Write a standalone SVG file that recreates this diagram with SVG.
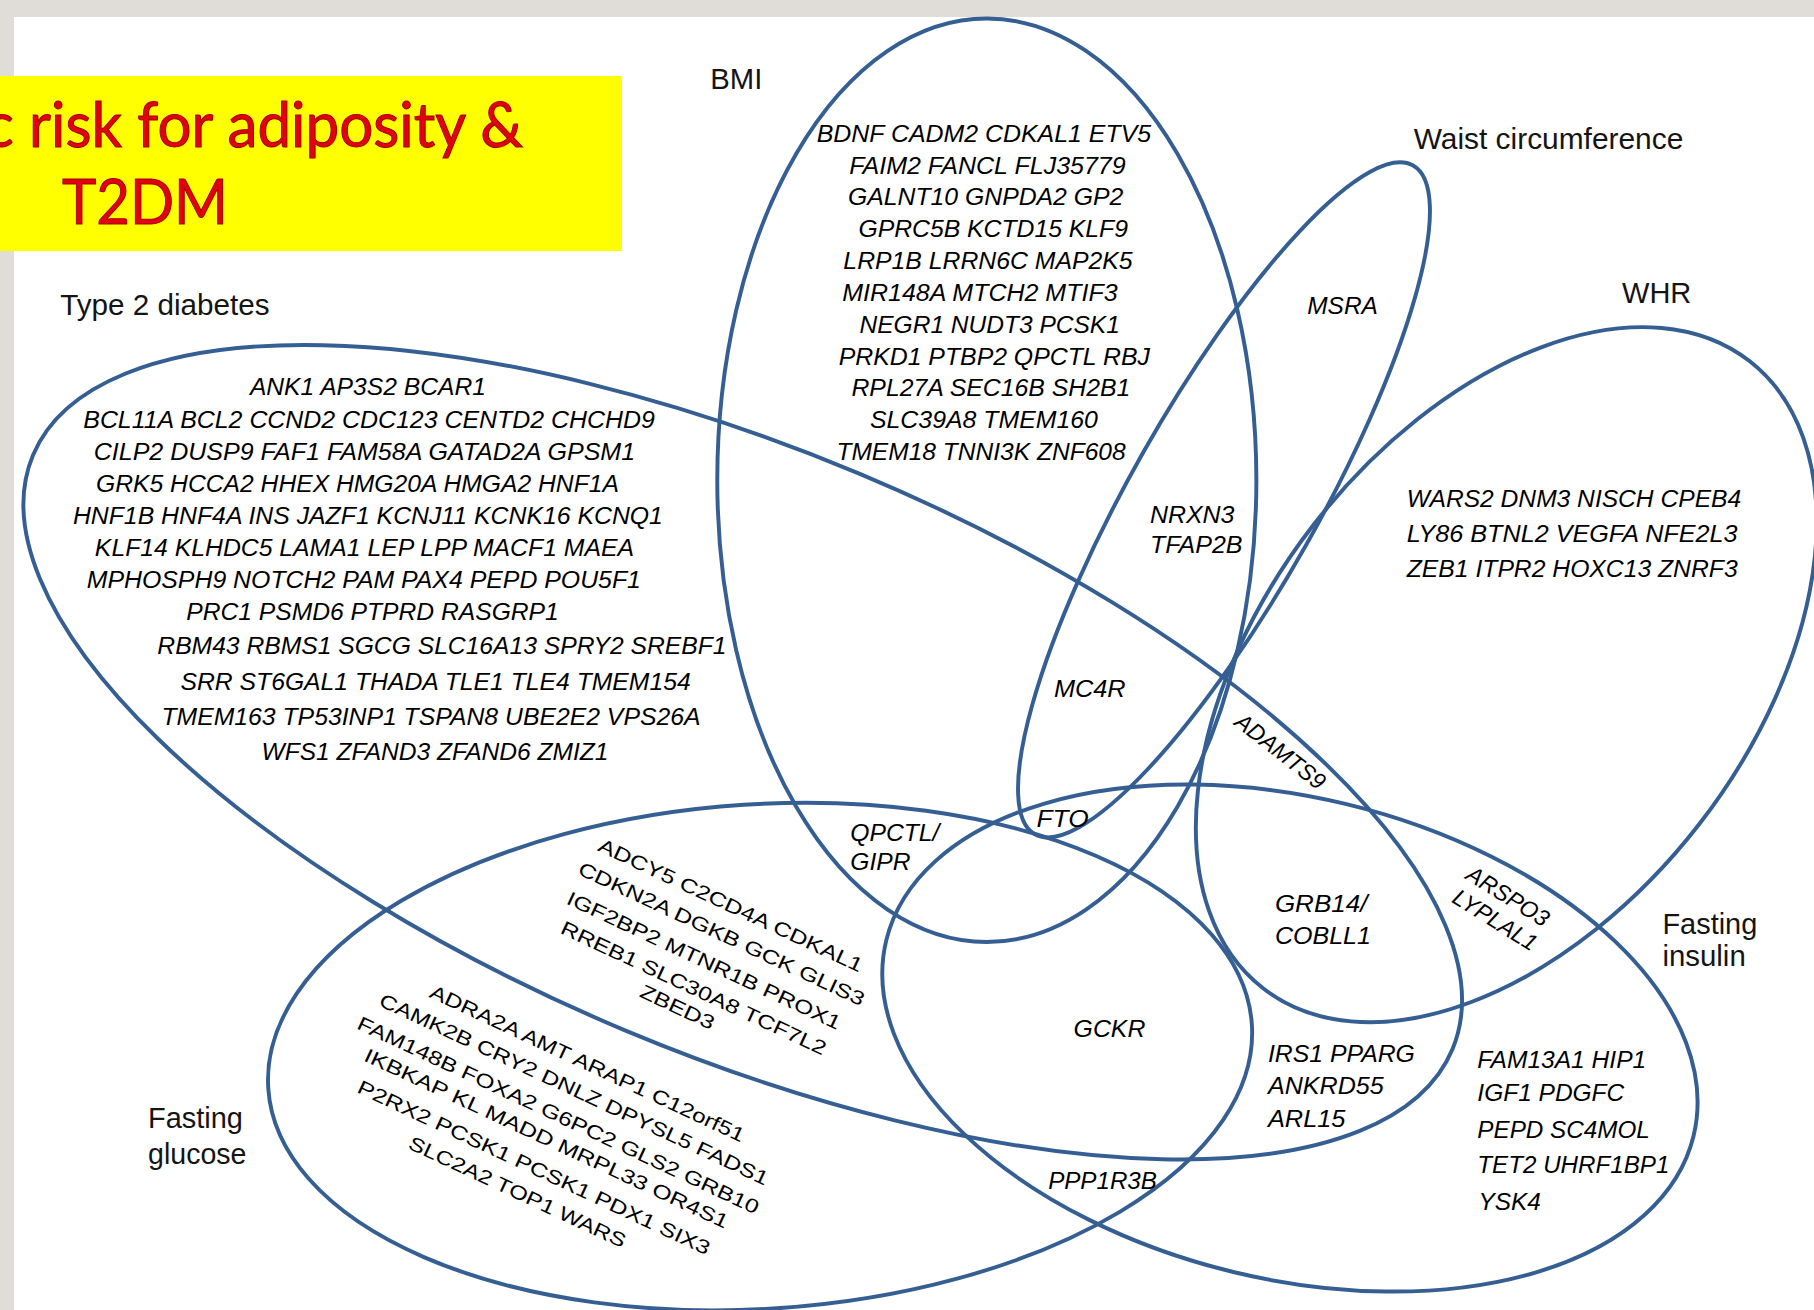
<svg xmlns="http://www.w3.org/2000/svg" width="1814" height="1310" viewBox="0 0 1814 1310">
<style>
.set{fill:none;stroke:#355f93;stroke-width:3.4}
.lbl{font-family:"Liberation Sans",Arial,sans-serif;font-size:25px;fill:#141414}
.g{font-family:"Liberation Sans",Arial,sans-serif;font-style:italic;font-size:20px;fill:#000}
.r{font-family:"Liberation Sans",Arial,sans-serif;font-size:17px;fill:#000}
.title{font-family:Lato,"Open Sans",sans-serif;font-size:62px;fill:#e3000f;stroke:#9a0000;stroke-width:1}
</style>
<rect x="0" y="0" width="1814" height="1310" fill="#e0ddd8"/>
<rect x="14" y="17" width="1800" height="1293" fill="#ffffff"/>
<g id="title">
<rect x="0" y="76" width="622" height="175" fill="#ffff00"/>
<text class="title" x="-15" y="147" textLength="538" lengthAdjust="spacingAndGlyphs">c risk for adiposity &amp;</text>
<text class="title" x="62" y="224" textLength="166" lengthAdjust="spacingAndGlyphs">T2DM</text>
</g>
<g transform="scale(1.15689 1.15724)">
<g id="sets">
<ellipse id="set-bmi" class="set" cx="853" cy="415" rx="233" ry="399"/>
<ellipse id="set-waist" class="set" cx="1058" cy="432" rx="332" ry="81" transform="rotate(-60.5 1058 432)"/>
<ellipse id="set-whr" class="set" cx="1302" cy="583" rx="343" ry="211" transform="rotate(-52.2 1302 583)"/>
<ellipse id="set-t2d" class="set" cx="642" cy="650" rx="665" ry="261" transform="rotate(22.7 642 650)"/>
<ellipse id="set-glucose" class="set" cx="657" cy="913" rx="426" ry="218" transform="rotate(-3.7 657 913)"/>
<ellipse id="set-insulin" class="set" cx="1115" cy="897" rx="359" ry="208" transform="rotate(13.6 1115 897)"/>
</g>
<g id="set-labels">
<text class="lbl" x="614" y="77" textLength="45" lengthAdjust="spacingAndGlyphs">BMI</text>
<text class="lbl" x="1222" y="129" textLength="233" lengthAdjust="spacingAndGlyphs">Waist circumference</text>
<text class="lbl" x="1402" y="262" textLength="60" lengthAdjust="spacingAndGlyphs">WHR</text>
<text class="lbl" x="52" y="272" textLength="181" lengthAdjust="spacingAndGlyphs">Type 2 diabetes</text>
<text class="lbl" x="128" y="975" textLength="82" lengthAdjust="spacingAndGlyphs">Fasting</text>
<text class="lbl" x="128" y="1006" textLength="85" lengthAdjust="spacingAndGlyphs">glucose</text>
<text class="lbl" x="1437" y="807" textLength="82" lengthAdjust="spacingAndGlyphs">Fasting</text>
<text class="lbl" x="1437" y="835" textLength="72" lengthAdjust="spacingAndGlyphs">insulin</text>
</g>
<g id="bmi-genes">
<text class="g" x="706" y="122.5" textLength="289" lengthAdjust="spacingAndGlyphs">BDNF CADM2 CDKAL1 ETV5</text>
<text class="g" x="734" y="150" textLength="239" lengthAdjust="spacingAndGlyphs">FAIM2 FANCL FLJ35779</text>
<text class="g" x="733" y="177.5" textLength="238" lengthAdjust="spacingAndGlyphs">GALNT10 GNPDA2 GP2</text>
<text class="g" x="742" y="205" textLength="233" lengthAdjust="spacingAndGlyphs">GPRC5B KCTD15 KLF9</text>
<text class="g" x="729" y="232.5" textLength="250" lengthAdjust="spacingAndGlyphs">LRP1B LRRN6C MAP2K5</text>
<text class="g" x="728" y="260" textLength="238" lengthAdjust="spacingAndGlyphs">MIR148A MTCH2 MTIF3</text>
<text class="g" x="743" y="287.5" textLength="225" lengthAdjust="spacingAndGlyphs">NEGR1 NUDT3 PCSK1</text>
<text class="g" x="725" y="315" textLength="269" lengthAdjust="spacingAndGlyphs">PRKD1 PTBP2 QPCTL RBJ</text>
<text class="g" x="736" y="342.5" textLength="241" lengthAdjust="spacingAndGlyphs">RPL27A SEC16B SH2B1</text>
<text class="g" x="752" y="370" textLength="197" lengthAdjust="spacingAndGlyphs">SLC39A8 TMEM160</text>
<text class="g" x="723" y="397.5" textLength="250" lengthAdjust="spacingAndGlyphs">TMEM18 TNNI3K ZNF608</text>
</g>
<g id="t2d-genes">
<text class="g" x="216" y="341.5" textLength="204" lengthAdjust="spacingAndGlyphs">ANK1 AP3S2 BCAR1</text>
<text class="g" x="72" y="369.6" textLength="494" lengthAdjust="spacingAndGlyphs">BCL11A BCL2 CCND2 CDC123 CENTD2 CHCHD9</text>
<text class="g" x="81" y="397.6" textLength="468" lengthAdjust="spacingAndGlyphs">CILP2 DUSP9 FAF1 FAM58A GATAD2A GPSM1</text>
<text class="g" x="83" y="425.5" textLength="452" lengthAdjust="spacingAndGlyphs">GRK5 HCCA2 HHEX HMG20A HMGA2 HNF1A</text>
<text class="g" x="63" y="453" textLength="510" lengthAdjust="spacingAndGlyphs">HNF1B HNF4A INS JAZF1 KCNJ11 KCNK16 KCNQ1</text>
<text class="g" x="82" y="480.6" textLength="466" lengthAdjust="spacingAndGlyphs">KLF14 KLHDC5 LAMA1 LEP LPP MACF1 MAEA</text>
<text class="g" x="75" y="507.7" textLength="479" lengthAdjust="spacingAndGlyphs">MPHOSPH9 NOTCH2 PAM PAX4 PEPD POU5F1</text>
<text class="g" x="161" y="536" textLength="322" lengthAdjust="spacingAndGlyphs">PRC1 PSMD6 PTPRD RASGRP1</text>
<text class="g" x="136" y="565.3" textLength="492" lengthAdjust="spacingAndGlyphs">RBM43 RBMS1 SGCG SLC16A13 SPRY2 SREBF1</text>
<text class="g" x="156" y="596.4" textLength="441" lengthAdjust="spacingAndGlyphs">SRR ST6GAL1 THADA TLE1 TLE4 TMEM154</text>
<text class="g" x="139.5" y="626.7" textLength="466" lengthAdjust="spacingAndGlyphs">TMEM163 TP53INP1 TSPAN8 UBE2E2 VPS26A</text>
<text class="g" x="226" y="657" textLength="300" lengthAdjust="spacingAndGlyphs">WFS1 ZFAND3 ZFAND6 ZMIZ1</text>
</g>
<g id="whr-genes">
<text class="g" x="1216" y="438" textLength="289" lengthAdjust="spacingAndGlyphs">WARS2 DNM3 NISCH CPEB4</text>
<text class="g" x="1216" y="468.2" textLength="286" lengthAdjust="spacingAndGlyphs">LY86 BTNL2 VEGFA NFE2L3</text>
<text class="g" x="1216" y="498.5" textLength="286" lengthAdjust="spacingAndGlyphs">ZEB1 ITPR2 HOXC13 ZNRF3</text>
</g>
<g id="overlap-genes">
<text class="g" x="1130" y="271" textLength="61" lengthAdjust="spacingAndGlyphs">MSRA</text>
<text class="g" x="994" y="452.3" textLength="73" lengthAdjust="spacingAndGlyphs">NRXN3</text>
<text class="g" x="994" y="477.7" textLength="80" lengthAdjust="spacingAndGlyphs">TFAP2B</text>
<text class="g" x="911" y="602.7" textLength="62" lengthAdjust="spacingAndGlyphs">MC4R</text>
<text class="g" x="896" y="715" textLength="45" lengthAdjust="spacingAndGlyphs">FTO</text>
<text class="g" x="735" y="727" textLength="77" lengthAdjust="spacingAndGlyphs">QPCTL/</text>
<text class="g" x="735" y="751.7" textLength="52" lengthAdjust="spacingAndGlyphs">GIPR</text>
<text class="g" x="1102" y="788" textLength="80" lengthAdjust="spacingAndGlyphs">GRB14/</text>
<text class="g" x="1102" y="816" textLength="83" lengthAdjust="spacingAndGlyphs">COBLL1</text>
<text class="g" x="928" y="896" textLength="62" lengthAdjust="spacingAndGlyphs">GCKR</text>
<text class="g" x="1096" y="918" textLength="127" lengthAdjust="spacingAndGlyphs">IRS1 PPARG</text>
<text class="g" x="1096" y="945.6" textLength="100" lengthAdjust="spacingAndGlyphs">ANKRD55</text>
<text class="g" x="1096" y="973.7" textLength="67" lengthAdjust="spacingAndGlyphs">ARL15</text>
<text class="g" x="906" y="1027.6" textLength="94" lengthAdjust="spacingAndGlyphs">PPP1R3B</text>
<text class="g" transform="translate(1066 626) rotate(38)" x="0" y="0" textLength="93" lengthAdjust="spacingAndGlyphs">ADAMTS9</text>
<text class="g" transform="translate(1266 759) rotate(32)" x="0" y="0" textLength="80" lengthAdjust="spacingAndGlyphs">ARSPO3</text>
<text class="g" transform="translate(1254 779) rotate(32)" x="0" y="0" textLength="82" lengthAdjust="spacingAndGlyphs">LYPLAL1</text>
</g>
<g id="insulin-genes">
<text class="g" x="1277" y="922.7" textLength="146" lengthAdjust="spacingAndGlyphs">FAM13A1 HIP1</text>
<text class="g" x="1277" y="951.7" textLength="127" lengthAdjust="spacingAndGlyphs">IGF1 PDGFC</text>
<text class="g" x="1277" y="983.4" textLength="149" lengthAdjust="spacingAndGlyphs">PEPD SC4MOL</text>
<text class="g" x="1277" y="1013.8" textLength="166" lengthAdjust="spacingAndGlyphs">TET2 UHRF1BP1</text>
<text class="g" x="1278" y="1045.3" textLength="54" lengthAdjust="spacingAndGlyphs">YSK4</text>
</g>
<g id="t2d-glucose-genes">
<text class="r" transform="translate(631.7 782.2) rotate(25)" x="-125" y="6" textLength="250" lengthAdjust="spacingAndGlyphs">ADCY5 C2CD4A CDKAL1</text>
<text class="r" transform="translate(623.8 806.8) rotate(25)" x="-135.5" y="6" textLength="271" lengthAdjust="spacingAndGlyphs">CDKN2A DGKB GCK GLIS3</text>
<text class="r" transform="translate(608.5 829.8) rotate(25)" x="-129.5" y="6" textLength="259" lengthAdjust="spacingAndGlyphs">IGF2BP2 MTNR1B PROX1</text>
<text class="r" transform="translate(599.7 853.7) rotate(25)" x="-125.5" y="6" textLength="251" lengthAdjust="spacingAndGlyphs">RREB1 SLC30A8 TCF7L2</text>
<text class="r" transform="translate(585.6 870.1) rotate(25)" x="-34.5" y="6" textLength="69" lengthAdjust="spacingAndGlyphs">ZBED3</text>
</g>
<g id="glucose-genes">
<text class="r" transform="translate(507.8 918.8) rotate(25)" x="-149" y="6" textLength="298" lengthAdjust="spacingAndGlyphs">ADRA2A AMT ARAP1 C12orf51</text>
<text class="r" transform="translate(496.3 941.1) rotate(25)" x="-184.5" y="6" textLength="369" lengthAdjust="spacingAndGlyphs">CAMK2B CRY2 DNLZ DPYSL5 FADS1</text>
<text class="r" transform="translate(482.6 963.5) rotate(25)" x="-190.5" y="6" textLength="381" lengthAdjust="spacingAndGlyphs">FAM148B FOXA2 G6PC2 GLS2 GRB10</text>
<text class="r" transform="translate(472.5 983.6) rotate(25)" x="-172.5" y="6" textLength="345" lengthAdjust="spacingAndGlyphs">IKBKAP KL MADD MRPL33 OR4S1</text>
<text class="r" transform="translate(461.7 1008.8) rotate(25)" x="-167" y="6" textLength="334" lengthAdjust="spacingAndGlyphs">P2RX2 PCSK1 PCSK1 PDX1 SIX3</text>
<text class="r" transform="translate(447.3 1029.8) rotate(25)" x="-102.5" y="6" textLength="205" lengthAdjust="spacingAndGlyphs">SLC2A2 TOP1 WARS</text>
</g>
</g>
</svg>
